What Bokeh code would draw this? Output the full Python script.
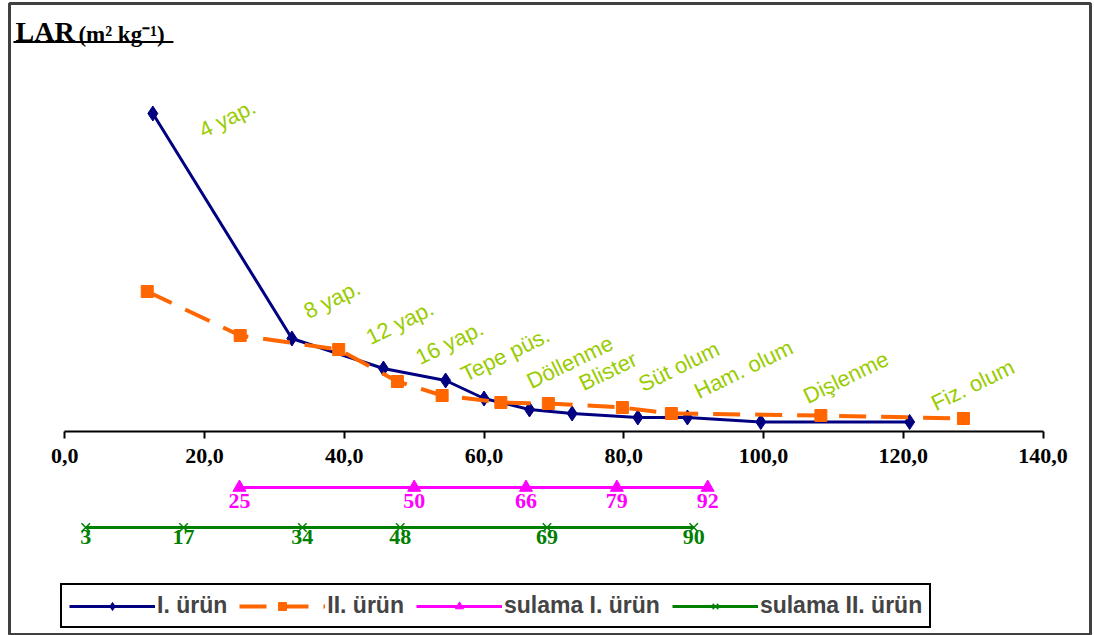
from bokeh.plotting import figure
from bokeh.models import Range1d, FixedTicker, Label, BoxAnnotation
from bokeh.core.properties import value
from bokeh.embed import file_html
from bokeh.resources import INLINE

# ---------------- data ----------------
urun1_days = [12.6, 32.5, 45.6, 54.5, 60.0, 66.5, 72.6, 82.0, 89.1, 99.6, 120.9]
urun1_lar = [31.8, 9.3, 6.3, 5.1, 3.3, 2.2, 1.8, 1.4, 1.4, 0.95, 0.95]

urun2_days = [11.8, 25.1, 39.2, 47.6, 54.0, 62.4, 69.2, 79.8, 86.8, 108.2, 128.6]
urun2_lar = [14.0, 9.6, 8.2, 5.0, 3.6, 2.9, 2.8, 2.4, 1.8, 1.6, 1.3]

sulama1_days = [25, 50, 66, 79, 92]
sulama2_days = [3, 17, 34, 48, 69, 90]

stage_labels = ["4 yap.", "8 yap.", "12 yap.", "16 yap.", "Tepe püs.", "Döllenme",
                "Blister", "Süt olum", "Ham. olum", "Dişlenme", "Fiz. olum"]
stage_x = [19.4, 34.4, 43.3, 50.4, 56.9, 66.3, 73.8, 82.3, 90.3, 105.9, 124.2]
stage_y = [30.0, 11.9, 9.3, 7.3, 5.6, 4.9, 4.7, 4.6, 3.9, 3.4, 2.7]

x_ticks = [0, 20, 40, 60, 80, 100, 120, 140]
x_tick_labels = ["0,0", "20,0", "40,0", "60,0", "80,0", "100,0", "120,0", "140,0"]

series_names = ["I. ürün", "II. ürün", "sulama I. ürün", "sulama II. ürün"]

# ---------------- layout constants ----------------
SUL1_Y = -5.6
SUL2_Y = -9.6

p = figure(width=1094, height=635,
           x_range=Range1d(-7.91, 146.78), y_range=Range1d(-20.4, 42.8),
           y_axis_type=None, toolbar_location=None, output_backend="svg",
           min_border_left=9, min_border_right=4, min_border_top=3, min_border_bottom=0)
p.grid.visible = False
p.background_fill_color = "white"
p.border_fill_color = "white"
p.outline_line_color = "#404040"
p.outline_line_width = 3

ax = p.xaxis[0]
ax.fixed_location = 0
ax.bounds = (0, 140)
ax.ticker = FixedTicker(ticks=x_ticks)
ax.major_label_overrides = {t: l for t, l in zip(x_ticks, x_tick_labels)}
ax.axis_line_color = "black"
ax.axis_line_width = 2
ax.major_tick_line_color = "black"
ax.major_tick_line_width = 2
ax.major_tick_in = 0
ax.major_tick_out = 7
ax.minor_tick_line_color = None
ax.major_label_standoff = 10
ax.major_label_text_font = "Liberation Serif"
ax.major_label_text_font_style = "bold"
ax.major_label_text_font_size = "22px"
ax.major_label_text_color = "black"

# series I
p.line(urun1_days, urun1_lar, line_color="#000080", line_width=3, legend_label=series_names[0])
p.scatter(urun1_days, urun1_lar, marker="diamond", size=15, fill_color="#000080",
          line_color="#000080", legend_label=series_names[0])

# series II
p.line(urun2_days, urun2_lar, line_color="#FF6600", line_width=4, line_dash="27 15",
       legend_label=series_names[1])
p.scatter(urun2_days, urun2_lar, marker="square", size=12, fill_color="#FF6600",
          line_color="#FF6600", legend_label=series_names[1])

# sulama lines
s1y = [SUL1_Y] * len(sulama1_days)
s2y = [SUL2_Y] * len(sulama2_days)
p.line(sulama1_days, s1y, line_color="#FF00FF", line_width=3, legend_label=series_names[2])
p.scatter(sulama1_days, s1y, marker="triangle", size=13, fill_color="#FF00FF",
          line_color="#FF00FF", legend_label=series_names[2])
p.line(sulama2_days, s2y, line_color="#008000", line_width=3, legend_label=series_names[3])
p.scatter(sulama2_days, s2y, marker="x", size=12, line_color="#008000", line_width=1.5,
          legend_label=series_names[3])

p.text(sulama1_days, s1y, text=[str(d) for d in sulama1_days], text_align="center",
       text_baseline="top", y_offset=6, text_font=value("Liberation Serif"),
       text_font_style="bold", text_font_size="22px", text_color="#FF00FF")
p.text(sulama2_days, s2y, text=[str(d) for d in sulama2_days], text_align="center",
       text_baseline="top", y_offset=2, text_font=value("Liberation Serif"),
       text_font_style="bold", text_font_size="22px", text_color="#008000")

# stage annotations
p.text(stage_x, stage_y, text=stage_labels, angle=26, angle_units="deg",
       text_align="left", text_baseline="alphabetic", text_font=value("Liberation Sans"),
       text_font_size="22px", text_color="#99CC00")

# title
p.add_layout(Label(x=-7.05, y=40.0, text="LAR", text_font="Liberation Serif",
                   text_font_style="bold", text_font_size="28px", text_color="black",
                   text_baseline="alphabetic"))
p.add_layout(Label(x=1.95, y=39.7, text="(m² kg⁻¹)", text_font="Liberation Serif",
                   text_font_style="bold", text_font_size="23px", text_color="black",
                   text_baseline="alphabetic"))
p.add_layout(BoxAnnotation(left=-7.35, right=15.55, top=39.05, bottom=38.85,
                           fill_color="black", fill_alpha=1, line_color=None))

# legend
lg = p.legend[0]
lg.orientation = "horizontal"
lg.location = (51, 7)
lg.border_line_color = "black"
lg.border_line_alpha = 1
lg.border_line_width = 2
lg.background_fill_color = "white"
lg.background_fill_alpha = 1
lg.label_text_font = "Liberation Sans"
lg.label_text_font_style = "bold"
lg.label_text_font_size = "23px"
lg.glyph_width = 86
lg.glyph_height = 20
lg.label_height = 20
lg.label_standoff = 2
lg.spacing = 12
lg.padding = 7
lg.margin = 0

open("out.html", "w").write(file_html(p, INLINE))
